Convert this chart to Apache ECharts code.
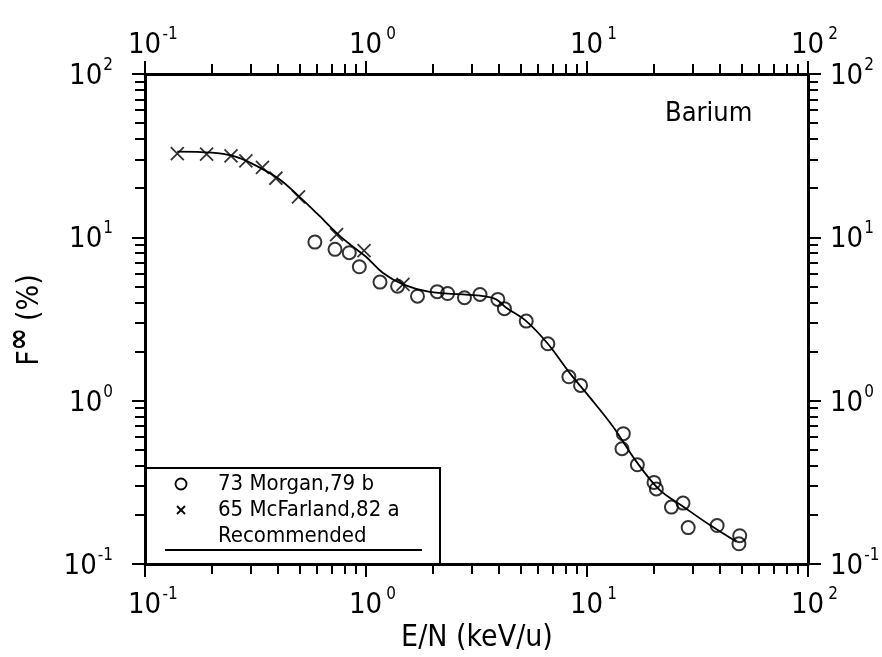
<!DOCTYPE html>
<html>
<head>
<meta charset="utf-8">
<script src="https://cdn.jsdelivr.net/npm/echarts@6/dist/echarts.min.js"></script>
<style>html,body{margin:0;padding:0;background:#fff}#c{width:882px;height:657px}</style>
</head>
<body>
<div id="c"></div>
<script>
// Data (E/N in keV/u, F_inf in %)
const morganX = [0.587, 0.724, 0.84, 0.933, 1.157, 1.39, 1.71, 2.10, 2.34, 2.79, 3.28, 3.95, 4.23, 5.31, 6.65, 8.28, 9.35, 14.6, 14.4, 16.9, 20.1, 20.6, 24.1, 27.2, 28.7, 38.8, 49.1, 48.7];
const morganY = [9.35, 8.44, 8.05, 6.6, 5.32, 5.02, 4.36, 4.65, 4.53, 4.27, 4.47, 4.17, 3.66, 3.07, 2.23, 1.40, 1.24, 0.628, 0.508, 0.405, 0.316, 0.288, 0.223, 0.236, 0.167, 0.172, 0.149, 0.133];
const mcfarlandX = [0.14, 0.19, 0.245, 0.286, 0.34, 0.391, 0.495, 0.736, 0.98, 1.47];
const mcfarlandY = [32.5, 32.3, 31.5, 29.4, 26.8, 23.0, 17.7, 10.4, 8.3, 5.15];
const recX = [0.14, 0.2, 0.25, 0.3, 0.4, 0.5, 0.6, 0.75, 0.87, 1.0, 1.19, 1.47, 1.94, 2.74, 3.37, 3.88, 4.31, 5.31, 6.65, 8.34, 10.0, 13.1, 16.7, 21.3, 27.2, 36, 47.4];
const recY = [33.5, 33.0, 31.5, 28.6, 23.0, 17.7, 14.0, 10.4, 8.8, 7.6, 6.07, 5.15, 4.63, 4.47, 4.37, 4.17, 3.71, 3.07, 2.23, 1.48, 1.10, 0.695, 0.425, 0.284, 0.225, 0.173, 0.137];
const decadeValues = [0.1, 1, 10, 100];
const decadeExponents = ['-1', '0', '1', '2'];
const legendNames = ['73 Morgan,79 b', '65 McFarland,82 a', 'Recommended'];

const FONT = "'DejaVu Sans Condensed', 'DejaVu Sans', sans-serif";
function pairs(xs, ys) { return xs.map((x, i) => [x, ys[i]]); }
function expIndex(v) {
  return decadeValues.findIndex(d => Math.abs(Math.log10(d) - Math.log10(v)) < 1e-6);
}
function labelFmtX(v) {
  const i = expIndex(v);
  return i < 0 ? '' : '{p|}{b|10}{s|' + decadeExponents[i] + '}';
}
function labelFmtY(v) {
  const i = expIndex(v);
  return i < 0 ? '' : '{b|10}{s|' + decadeExponents[i] + '}';
}
const baseTok = { fontSize: 29, fontFamily: FONT, color: '#000', lineHeight: 34, verticalAlign: 'bottom' };
const supTok = { fontSize: 17, fontFamily: FONT, color: '#000', lineHeight: 34, verticalAlign: 'top', padding: [0, 0, 16, 1] };
const richX = { p: { width: 16 }, b: baseTok, s: Object.assign({}, supTok, { width: 16, align: 'left' }) };
const richY = { b: baseTok, s: supTok };
function makeAxis(pos, isX, margin) {
  return {
    type: 'log', logBase: 10, min: 0.1, max: 100, position: pos,
    splitNumber: 3,
    axisLine: { show: true, onZero: false, lineStyle: { color: '#000', width: 3 } },
    axisTick: { show: true, length: 13, lineStyle: { color: '#000', width: 2 } },
    minorTick: { show: true, splitNumber: 9, length: 10, lineStyle: { color: '#000', width: 2 } },
    splitLine: { show: false }, minorSplitLine: { show: false },
    axisLabel: { show: true, formatter: isX ? labelFmtX : labelFmtY, rich: isX ? richX : richY, margin: margin, hideOverlap: false }
  };
}
const chart = echarts.init(document.getElementById('c'), null, { renderer: 'canvas' });
const gL = 145, gT = 74, gR = 808, gB = 564;
chart.setOption({
  backgroundColor: '#fff',
  animation: false,
  grid: { left: gL, top: gT, right: 882 - gR, bottom: 657 - gB, containLabel: false, outerBoundsMode: 'none' },
  xAxis: [makeAxis('bottom', true, 22), makeAxis('top', true, 14)],
  yAxis: [makeAxis('left', false, 32), makeAxis('right', false, 22)],
  series: [
    { name: legendNames[2], type: 'line', data: pairs(recX, recY), smooth: 0.35, showSymbol: false,
      lineStyle: { color: '#000', width: 1.8 }, z: 2 },
    { name: legendNames[0], type: 'scatter', data: pairs(morganX, morganY), symbol: 'circle', symbolSize: 13,
      itemStyle: { color: 'rgba(0,0,0,0)', borderColor: '#000', borderWidth: 2 }, z: 3 },
    { name: legendNames[1], type: 'scatter', data: pairs(mcfarlandX, mcfarlandY),
      symbol: 'path://M0,0L10,10M10,0L0,10', symbolSize: 13,
      itemStyle: { color: 'rgba(0,0,0,0)', borderColor: '#000', borderWidth: 1.8 }, z: 3 }
  ],
  graphic: [
    { type: 'text', left: 665, top: 100, style: { text: 'Barium', font: '27px ' + FONT, fill: '#000' } },
    { type: 'text', x: 477, y: 638, style: { text: 'E/N (keV/u)', font: '30px ' + FONT, fill: '#000', align: 'center', verticalAlign: 'middle' } },
    { type: 'text', x: 30, y: 320, rotation: Math.PI / 2, style: { text: '{f|F}{i|\u221E}  {f|(%)}', align: 'center', verticalAlign: 'middle',
      rich: { f: { font: '30px ' + FONT, fill: '#000' }, i: { font: 'bold 30px ' + FONT, fill: '#000', padding: [0, 0, 20, 0] } } } },
    // legend box
    { type: 'rect', shape: { x: 146, y: 468, width: 294, height: 96 }, style: { fill: '#fff', stroke: '#000', lineWidth: 2 }, z: 10 },
    { type: 'circle', shape: { cx: 181, cy: 484, r: 5.5 }, style: { fill: 'none', stroke: '#000', lineWidth: 1.8 }, z: 11 },
    { type: 'text', x: 218, y: 484, style: { text: legendNames[0], font: '22px ' + FONT, fill: '#000', verticalAlign: 'middle' }, z: 11 },
    { type: 'polyline', shape: { points: [[177, 506], [185, 514]] }, style: { stroke: '#000', lineWidth: 1.8 }, z: 11 },
    { type: 'polyline', shape: { points: [[185, 506], [177, 514]] }, style: { stroke: '#000', lineWidth: 1.8 }, z: 11 },
    { type: 'text', x: 218, y: 510, style: { text: legendNames[1], font: '22px ' + FONT, fill: '#000', verticalAlign: 'middle' }, z: 11 },
    { type: 'text', x: 218, y: 536, style: { text: legendNames[2], font: '22px ' + FONT, fill: '#000', verticalAlign: 'middle' }, z: 11 },
    { type: 'line', shape: { x1: 165, y1: 550, x2: 422, y2: 550 }, style: { stroke: '#000', lineWidth: 1.8 }, z: 11 }
  ]
});
</script>
</body>
</html>
